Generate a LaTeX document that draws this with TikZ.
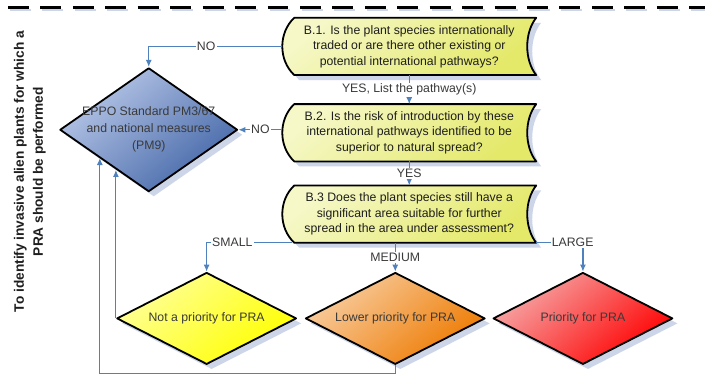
\documentclass[tikz,border=0pt]{standalone}
\usepackage{fontspec}
\setmainfont{Liberation Sans}
\usetikzlibrary{shapes.geometric,arrows.meta,calc,shadows}
\pgfdeclarelayer{bg}
\pgfsetlayers{bg,main}
\definecolor{connblue}{HTML}{4F81BD}
\definecolor{shad}{HTML}{CDD6E8}
\definecolor{txtc}{HTML}{1E1E1E}
\definecolor{labc}{HTML}{3A3A3A}
\definecolor{ylight}{HTML}{F6F8C8}
\definecolor{ydark}{HTML}{E4E96A}
\definecolor{blight}{HTML}{B9C8E8}
\definecolor{bdark}{HTML}{4467A8}
\definecolor{yelight}{HTML}{FFFF98}
\definecolor{yedark}{HTML}{FFFF00}
\definecolor{orlight}{HTML}{F8CDA0}
\definecolor{ordark}{HTML}{EE7A00}
\definecolor{rdlight}{HTML}{F6A8A8}
\definecolor{rddark}{HTML}{FF0000}
\tikzset{
  qtext/.style={minimum width=254pt, minimum height=57pt, inner sep=0pt, align=center,
    font=\fontsize{12.3}{15.5}\selectfont, text=txtc},
  qshape/.style={draw=black, line width=1.8pt, line join=round,
    top color=ylight, bottom color=ydark, shading angle=40,
    drop shadow={shadow xshift=5pt, shadow yshift=-5pt, fill=shad, opacity=1}},
  dia/.style={shape=diamond, draw=black, line width=1.8pt, line join=round,
    inner xsep=-45pt, inner ysep=-25pt, align=center,
    font=\fontsize{12.3}{17}\selectfont, text=labc,
    drop shadow={shadow xshift=5pt, shadow yshift=-5pt, fill=shad, opacity=1}},
  diacol/.style 2 args={top color=#1, bottom color=#2, shading angle=40},
  conn/.style={draw=connblue, line width=1.2pt, -{Latex[length=7pt,width=6pt]}},
  lab/.style={fill=white, inner sep=1.2pt, text=labc, font=\fontsize{12.3}{14}\selectfont},
}
\newcommand\qbox[3]{%
  \node[qtext] (#1) at (#2) {#3};
  \begin{pgfonlayer}{bg}
    \path[qshape] ([xshift=12pt]#1.north west) -- (#1.north east)
      .. controls ([xshift=-12pt,yshift=-15pt]#1.north east) and ([xshift=-12pt,yshift=15pt]#1.south east) .. (#1.south east)
      -- ([xshift=12pt]#1.south west)
      .. controls ([xshift=-4pt,yshift=15pt]#1.south west) and ([xshift=-4pt,yshift=-15pt]#1.north west) .. cycle;
  \end{pgfonlayer}}
\begin{document}
\begin{tikzpicture}[x=1pt,y=-1pt]
\begin{pgfonlayer}{bg}
\useasboundingbox[fill=white] (0,0) rectangle (706,374);
\end{pgfonlayer}

% top dashed line
\draw[line width=2pt, shad, dash pattern=on 21pt off 11.5pt] (10,10.5) -- (706,10.5);
\draw[line width=2.6pt, black, dash pattern=on 21pt off 11.5pt] (8,7.5) -- (706,7.5);

% title
\node[font=\bfseries\fontsize{13.7}{19}\selectfont, rotate=90, align=center, text=txtc] (title) at (30,172)
  {To identify invasive alien plants for which a\\PRA should be performed};

% question boxes
\qbox{b1}{410,46.5}{B.1. Is the plant species internationally\\traded or are there other existing or\\potential international pathways?}
\qbox{b2}{410,133}{B.2. Is the risk of introduction by these\\international pathways identified to be\\superior to natural spread?}
\qbox{b3}{410,214.5}{B.3 Does the plant species still have a\\significant area suitable for further\\spread in the area under assessment?}

% diamonds
\node[dia, minimum width=178pt, minimum height=124pt, diacol={blight}{bdark}] (eppo) at (149,130)
  {EPPO Standard PM3/67\\and national measures\\(PM9)};
\node[dia, minimum width=180pt, minimum height=92pt, diacol={yelight}{yedark}] (yel) at (207,319)
  {Not a priority for PRA};
\node[dia, minimum width=180pt, minimum height=92pt, diacol={orlight}{ordark}] (ora) at (396,319)
  {Lower priority for PRA};
\node[dia, minimum width=180pt, minimum height=92pt, diacol={rdlight}{rddark}] (red) at (584,319)
  {Priority for PRA};

% helper points
\coordinate (eA) at ($(eppo.west)!0.45!(eppo.south)$);
\coordinate (eB) at ($(eppo.west)!0.64!(eppo.south)$);
\coordinate (cA) at (100,374);

% connectors
\draw[conn] (b1.west) -| node[lab, pos=0.285] {NO} (eppo.north);
\draw[conn] (eppo.east -| b2.west) -- node[lab] {NO} (eppo.east);
\draw[conn] (b1.south) -- node[lab] {YES, List the pathway(s)} (b2.north);
\draw[conn] (b2.south) -- node[lab] {YES} (b3.north);
\draw[conn] (b3.south -| ora.north) -- node[lab] {MEDIUM} (ora.north);
\draw[conn] ([xshift=10pt]b3.south west) -| node[lab, pos=0.35] {SMALL} (yel.north);
\draw[conn] (b3.south east) -| node[lab, pos=0.39] {LARGE} (red.north);
\draw[conn] (yel.west) -- (yel.west |- eB);
\draw[conn] (ora.south) |- (cA) -- (cA |- eA);
\end{tikzpicture}
\end{document}
